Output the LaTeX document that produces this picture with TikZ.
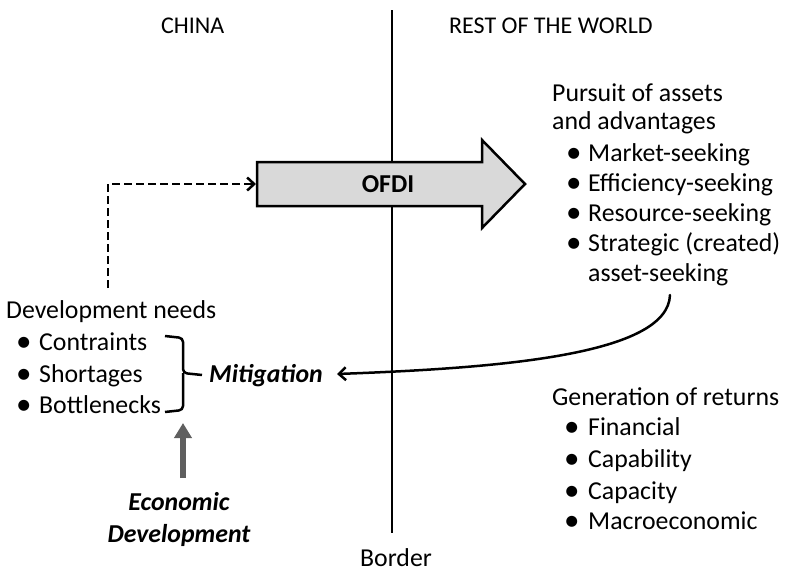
\documentclass[tikz,border=0pt]{standalone}
\usepackage{fontspec}
\setmainfont{Carlito}
\usetikzlibrary{arrows.meta}
\definecolor{arrowfill}{HTML}{D9D9D9}
\definecolor{darkgrey}{HTML}{5F5F5F}
\newcommand{\bul}[2]{\makebox[#1][l]{\raisebox{-1.8pt}{\scalebox{1.2}{•}}}#2}
\begin{document}
\begin{tikzpicture}[x=1pt,y=-1pt,
  txt/.style={inner sep=0pt, anchor=base west, font=\fontsize{25.8}{31}\selectfont},
  head/.style={inner sep=0pt, anchor=base west, font=\fontsize{24}{29}\selectfont},
  ctxt/.style={inner sep=0pt, anchor=base, font=\fontsize{25.8}{31}\selectfont},
  bitxt/.style={inner sep=0pt, anchor=base, font=\fontsize{25.8}{31}\selectfont\bfseries\itshape},
  conn/.style={line width=2.5pt, line cap=round},
  barb/.style={-{Straight Barb[length=7pt,width=13pt,line width=2.5pt]}}
]
\useasboundingbox (0,0) rectangle (788,571);

% border line
\coordinate (bt) at (392,10);
\coordinate (bb) at (392,533);
\draw[line width=2.6pt] (bt) -- (bb);

% OFDI arrow
\draw[line width=2.5pt, line join=miter, fill=arrowfill]
  (257,162) -- (482,162) -- (482,140) -- (525,184) -- (482,228) -- (482,206) -- (257,206) -- cycle;
\node[ctxt, font=\fontsize{25.8}{31}\selectfont\bfseries] (ofdi) at (388,192) {OFDI};
\coordinate (ofdiL) at (256,184);

% headings
\node[head] (china) at (161,33) {CHINA};
\node[head] (row) at (449,33) {REST OF THE WORLD};
\node[ctxt] (border) at (396,566) {Border};

% left block
\node[txt] (dev) at (6,318) {Development needs};
\node[txt] (l1) at (16,350) {\bul{23pt}{Contraints}};
\node[txt] (l2) at (16,382) {\bul{23pt}{Shortages}};
\node[txt] (l3) at (16,413) {\bul{23pt}{Bottlenecks}};

% dashed connector
\coordinate (dstart) at (108,288);
\draw[conn, dashed, dash pattern=on 8pt off 4pt, barb, line cap=butt] (dstart) |- (ofdiL);

% bracket
\coordinate (bk1) at (165,336);
\coordinate (bk2) at (165,412);
\coordinate (bkm) at (202,375);
\draw[line width=2.5pt, rounded corners=4pt] (bk1) -- (183,338) -- (183,373) -- (bkm);
\draw[line width=2.5pt, rounded corners=4pt] (183,373) -- (183,410) -- (bk2);

% mitigation
\node[txt, font=\fontsize{25.8}{31}\selectfont\bfseries\itshape] (mit) at (209,382) {Mitigation};

% economic development
\node[bitxt] (eco1) at (179,510) {Economic};
\node[bitxt] (eco2) at (179,542) {Development};
\coordinate (ea) at (183,478);
\coordinate (eb) at (183,423);
\draw[line width=6pt, darkgrey, -{Triangle[length=15pt,width=17pt]}] (ea) -- (eb);

% right top block
\node[txt] (p1) at (552,101) {Pursuit of assets};
\node[txt] (p2) at (552,129) {and advantages};
\node[txt] (r1) at (566,161) {\bul{22pt}{Market-seeking}};
\node[txt] (r2) at (566,191) {\bul{22pt}{Efficiency-seeking}};
\node[txt] (r3) at (566,221) {\bul{22pt}{Resource-seeking}};
\node[txt] (r4) at (566,251) {\bul{22pt}{Strategic (created)}};
\node[txt] (r5) at (588,281) {asset-seeking};

% right bottom block
\node[txt] (g0) at (552,405) {Generation of returns};
\node[txt] (g1) at (564,435) {\bul{24pt}{Financial}};
\node[txt] (g2) at (564,467) {\bul{24pt}{Capability}};
\node[txt] (g3) at (564,499) {\bul{24pt}{Capacity}};
\node[txt] (g4) at (564,529) {\bul{24pt}{Macroeconomic}};

% curved connector
\coordinate (cs) at (670,295);
\coordinate (ce) at (337,374);
\draw[conn, barb] (cs) .. controls (668,355) and (500,368) .. (ce);
\end{tikzpicture}
\end{document}
